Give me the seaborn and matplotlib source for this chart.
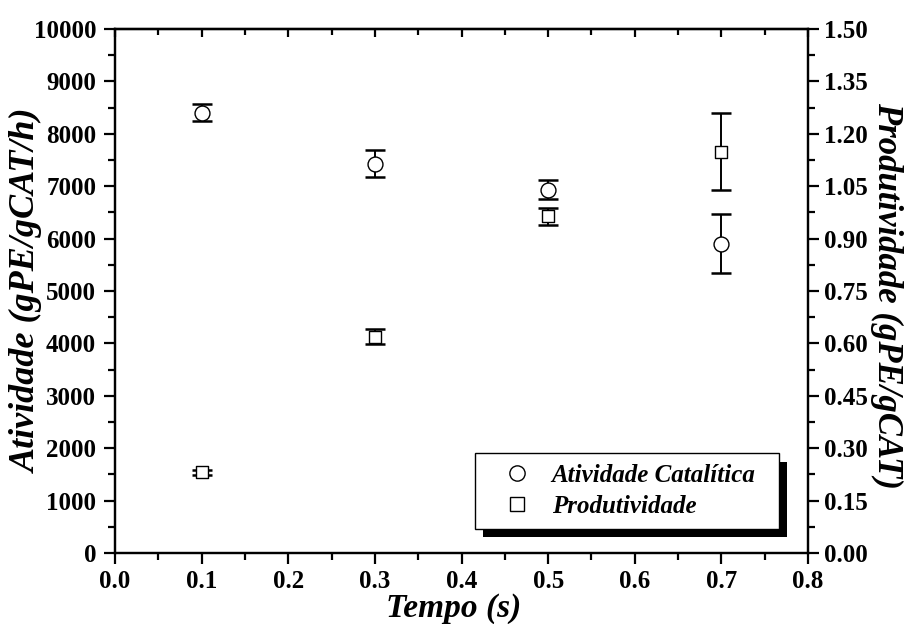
import matplotlib
matplotlib.use("Agg")
import matplotlib.pyplot as plt
import seaborn as sns
import pandas as pd
from matplotlib.lines import Line2D
from matplotlib.patches import Rectangle
from matplotlib.ticker import MultipleLocator, FormatStrFormatter

# Reaction time (s)
tempo = [0.1, 0.3, 0.5, 0.7]
# Catalytic activity (gPE/gCAT/h) and its error
atividade = [8400, 7430, 6935, 5900]
atividade_err = [165, 255, 175, 565]
# Productivity (gPE/gCAT) and its error
produtividade = [0.231, 0.619, 0.964, 1.149]
produtividade_err = [0.007, 0.021, 0.025, 0.110]

sns.set_style("ticks")
plt.rcParams["font.family"] = ["Liberation Serif", "DejaVu Serif"]
plt.rcParams["font.weight"] = "bold"
for key in ("text.color", "axes.labelcolor", "xtick.color", "ytick.color",
            "axes.edgecolor"):
    plt.rcParams[key] = "black"

df_a = pd.DataFrame({"tempo": tempo, "valor": atividade, "err": atividade_err})
df_p = pd.DataFrame({"tempo": tempo, "valor": produtividade, "err": produtividade_err})

W, H = 907, 624
fig = plt.figure(figsize=(W / 100, H / 100), dpi=100)
ax = fig.add_axes([115 / W, 1 - 553 / H, (808 - 115) / W, (553 - 29) / H])
ax2 = ax.twinx()

lw_err = 1.4
cap = 7.5

# Catalytic activity on the left axis
ax.errorbar(df_a["tempo"], df_a["valor"], yerr=df_a["err"], fmt="none",
            ecolor="black", elinewidth=lw_err, capsize=cap, capthick=1.8, zorder=2)
sns.scatterplot(data=df_a, x="tempo", y="valor", ax=ax, marker="o", s=115,
                facecolor="white", edgecolor="black", linewidth=1.0, zorder=3, legend=False)

# Productivity on the right axis
ax2.errorbar(df_p["tempo"], df_p["valor"], yerr=df_p["err"], fmt="none",
             ecolor="black", elinewidth=lw_err, capsize=cap, capthick=1.8, zorder=2)
sns.scatterplot(data=df_p, x="tempo", y="valor", ax=ax2, marker="s", s=85,
                facecolor="white", edgecolor="black", linewidth=1.0, zorder=3, legend=False)

ax.set_xlim(0, 0.8)
ax.set_ylim(0, 10000)
ax2.set_ylim(0, 1.5)

ax.xaxis.set_major_locator(MultipleLocator(0.1))
ax.xaxis.set_minor_locator(MultipleLocator(0.05))
ax.xaxis.set_major_formatter(FormatStrFormatter("%.1f"))
ax.yaxis.set_major_locator(MultipleLocator(1000))
ax.yaxis.set_minor_locator(MultipleLocator(500))
ax2.yaxis.set_major_locator(MultipleLocator(0.15))
ax2.yaxis.set_minor_locator(MultipleLocator(0.075))
ax2.yaxis.set_major_formatter(FormatStrFormatter("%.2f"))

fs = 18
for a in (ax, ax2):
    for sp in a.spines.values():
        sp.set_visible(True)
        sp.set_linewidth(1.6)
        sp.set_color("black")

ax.tick_params(axis="x", which="both", direction="out", bottom=True, top=False,
               labelsize=fs, width=1.6, pad=4)
ax.tick_params(axis="x", which="major", length=8)
ax.tick_params(axis="x", which="minor", length=5)
ax.tick_params(axis="y", which="both", direction="out", left=True, right=False,
               labelsize=fs, width=1.6, pad=5.5)
ax.tick_params(axis="y", which="major", length=8)
ax.tick_params(axis="y", which="minor", length=5)
ax2.tick_params(axis="y", which="both", direction="out", right=True, left=False,
                labelsize=fs, width=1.6, pad=3.5)
ax2.tick_params(axis="y", which="major", length=8)
ax2.tick_params(axis="y", which="minor", length=5)

# Inward ticks along the top edge
top = ax.secondary_xaxis("top")
top.xaxis.set_major_locator(MultipleLocator(0.1))
top.xaxis.set_minor_locator(MultipleLocator(0.05))
top.tick_params(axis="x", which="both", direction="in", labeltop=False, width=1.6)
top.tick_params(axis="x", which="major", length=6)
top.tick_params(axis="x", which="minor", length=4)
top.spines["top"].set_linewidth(1.6)

for lab in ax.get_xticklabels() + ax.get_yticklabels() + ax2.get_yticklabels():
    lab.set_fontweight("bold")

# Axis titles placed in figure coordinates
lbl = dict(fontweight="bold", fontstyle="italic")
ax.set_xlabel("")
ax.set_ylabel("")
ax2.set_ylabel("")
fig.text(454 / W, 0.0, "Tempo (s)", ha="center", va="bottom", fontsize=24, **lbl)
fig.text(27 / W, 1 - 291 / H, "Atividade (gPE/gCAT/h)", rotation=90,
         ha="center", va="center", rotation_mode="anchor", fontsize=26, **lbl)
fig.text(887 / W, 1 - 295 / H, "Produtividade (gPE/gCAT)", rotation=-90,
         ha="center", va="center", rotation_mode="anchor", fontsize=25, **lbl)

# Legend with solid offset shadow
handles = [
    Line2D([], [], marker="o", linestyle="none", markersize=11, markerfacecolor="white",
           markeredgecolor="black", markeredgewidth=1.0, label="Atividade Catalítica"),
    Line2D([], [], marker="s", linestyle="none", markersize=10, markerfacecolor="white",
           markeredgecolor="black", markeredgewidth=1.0, label="Produtividade"),
]
leg_x0, leg_y0, leg_w, leg_h = 0.519, 0.046, 0.439, 0.143
shadow = Rectangle((leg_x0 + 8 / 693, leg_y0 - 8 / 524), leg_w, leg_h,
                   transform=ax2.transAxes, facecolor="black", edgecolor="none",
                   zorder=9, clip_on=False)
ax2.add_patch(shadow)
leg = ax2.legend(handles=handles, loc="lower left",
                 bbox_to_anchor=(leg_x0, leg_y0, leg_w, leg_h), mode="expand",
                 frameon=True, fancybox=False, framealpha=1, edgecolor="black",
                 borderaxespad=0, handletextpad=0.17, handlelength=2.46,
                 borderpad=0.45, labelspacing=0.3,
                 prop=dict(family=["Liberation Serif"], size=18, weight="bold", style="italic"))
leg.get_frame().set_linewidth(1.0)
leg.set_zorder(10)

fig.savefig("out.png", dpi=100)
